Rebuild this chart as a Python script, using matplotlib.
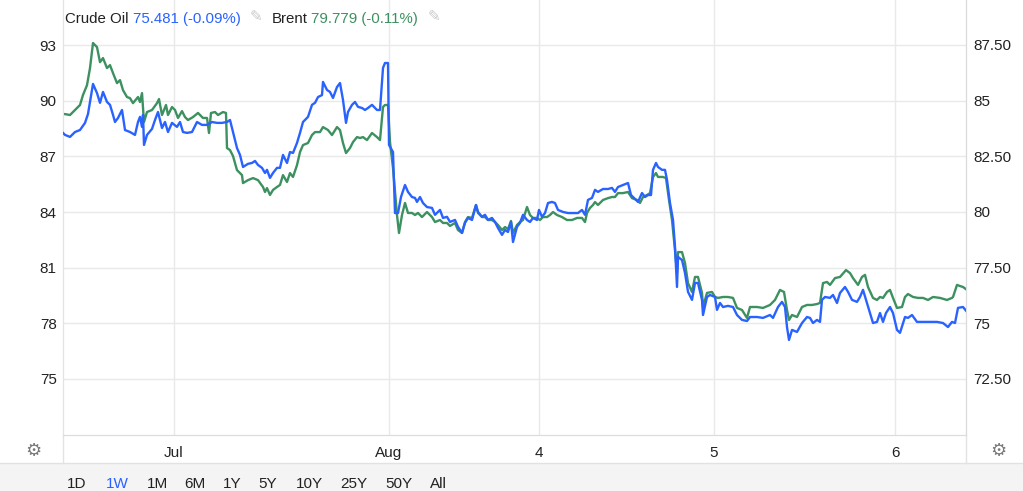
#!/usr/bin/env python3
# crude_brent_plot.py
import matplotlib
matplotlib.use("Agg")
import matplotlib.pyplot as plt
from matplotlib.lines import Line2D
from matplotlib.patches import Rectangle
from matplotlib.ticker import FixedLocator, FuncFormatter

plt.rcParams['font.family'] = ['Liberation Sans', 'DejaVu Sans']

# ----------------------------- Data -----------------------------
# time axis is in bar steps from the left edge of the chart
crude_t = [0, 2, 7, 12, 17, 22, 25, 30, 34, 37, 40, 44, 47, 50, 52, 55, 59, 62, 67, 72,
           75, 77, 79, 80, 81, 84, 89, 92, 95, 99, 102, 105, 109, 114, 117, 120, 124, 129, 134, 139,
           144, 149, 154, 159, 164, 167, 170, 174, 177, 180, 185, 189, 192, 195, 199, 202, 204, 207, 210, 214,
           217, 220, 224, 227, 230, 234, 237, 240, 245, 249, 252, 255, 259, 260, 264, 267, 270, 274, 277, 280,
           283, 285, 289, 292, 295, 299, 302, 305, 309, 314, 317, 320, 322, 325, 326, 330, 332, 335, 338, 342,
           345, 349, 352, 354, 357, 360, 364, 369, 372, 375, 377, 380, 384, 387, 392, 395, 399, 402, 405, 409,
           413, 415, 419, 422, 425, 429, 432, 435, 439, 442, 445, 448, 450, 454, 457, 460, 464, 467, 470, 474,
           476, 479, 482, 485, 489, 492, 495, 500, 505, 510, 515, 519, 522, 525, 529, 532, 535, 540, 545, 549,
           552, 555, 560, 565, 568, 571, 575, 579, 582, 585, 588, 590, 593, 595, 599, 602, 604, 607, 610, 612,
           614, 615, 619, 622, 625, 629, 632, 635, 639, 640, 644, 647, 652, 654, 657, 660, 665, 670, 674, 679,
           684, 687, 694, 700, 707, 710, 715, 719, 722, 724, 726, 729, 734, 739, 744, 747, 750, 754, 757, 759,
           762, 767, 770, 774, 777, 782, 785, 789, 794, 797, 800, 804, 807, 810, 814, 817, 820, 823, 827, 830,
           834, 837, 842, 845, 849, 854, 860, 867, 874, 880, 885, 889, 892, 895, 900, 904]
crude = [83.55, 83.46, 83.37, 83.59, 83.68, 84.00, 84.40, 85.75, 85.34, 84.90, 85.39, 84.94, 84.81, 84.36, 84.04, 84.22, 84.58, 83.68, 83.59, 83.46,
         84.04, 84.27, 83.82, 84.36, 83.01, 83.46, 83.73, 84.13, 84.49, 83.77, 84.04, 83.59, 84.00, 83.82, 84.04, 83.59, 83.55, 83.59, 84.04, 83.91,
         83.91, 84.04, 84.00, 84.00, 84.04, 84.13, 83.59, 82.87, 82.56, 82.02, 82.16, 82.20, 82.29, 82.11, 81.98, 81.75, 81.89, 81.53, 81.75, 81.98,
         81.98, 82.56, 82.20, 82.69, 82.65, 83.10, 83.55, 84.04, 84.27, 84.81, 84.90, 85.16, 85.25, 85.84, 85.48, 85.39, 85.12, 85.61, 85.79, 85.03,
         84.00, 84.49, 84.81, 84.94, 84.72, 84.67, 84.58, 84.67, 84.81, 84.58, 84.58, 86.47, 86.69, 86.69, 83.01, 82.69, 79.95, 79.95, 80.67, 81.21,
         80.90, 80.67, 80.63, 80.45, 80.67, 80.40, 80.22, 80.18, 79.87, 80.00, 80.09, 79.73, 79.78, 79.55, 79.64, 79.33, 79.06, 79.51, 79.73, 79.64,
         80.31, 80.00, 79.78, 79.87, 79.64, 79.73, 79.55, 79.28, 78.97, 79.19, 79.10, 79.55, 78.65, 79.33, 79.51, 79.87, 79.64, 79.55, 79.73, 79.64,
         80.09, 79.78, 79.95, 80.40, 80.45, 80.40, 80.09, 80.00, 79.95, 79.95, 79.95, 80.09, 79.87, 80.54, 80.63, 80.99, 80.90, 81.03, 81.03, 81.08,
         80.90, 81.12, 81.21, 81.30, 80.76, 80.63, 80.45, 80.85, 80.67, 80.76, 80.76, 81.89, 82.20, 82.02, 81.89, 81.89, 81.44, 80.40, 79.64, 78.43,
         76.63, 77.98, 77.84, 77.26, 76.41, 76.05, 76.81, 76.81, 76.05, 75.37, 76.18, 76.27, 76.18, 75.60, 75.91, 75.73, 75.78, 75.73, 75.37, 75.15,
         75.10, 75.28, 75.28, 75.24, 75.37, 75.24, 75.73, 75.96, 75.73, 74.83, 74.25, 74.70, 74.61, 75.01, 75.28, 75.24, 75.01, 75.15, 75.06, 76.05,
         76.18, 76.14, 76.27, 75.91, 76.36, 76.63, 76.41, 76.05, 75.96, 76.18, 76.50, 75.91, 75.46, 75.01, 75.06, 75.46, 75.06, 75.46, 75.73, 75.46,
         74.70, 74.57, 75.28, 75.24, 75.37, 75.06, 75.06, 75.06, 75.06, 75.01, 74.83, 75.06, 75.01, 75.69, 75.73, 75.51]

brent_t = [0, 2, 7, 12, 17, 20, 24, 27, 30, 34, 37, 40, 44, 47, 50, 54, 57, 60, 64, 67,
           70, 75, 77, 79, 81, 84, 89, 94, 96, 99, 103, 105, 109, 112, 115, 119, 122, 125, 130, 135,
           140, 144, 146, 148, 152, 155, 160, 163, 164, 167, 170, 174, 179, 180, 185, 190, 195, 200, 202, 204,
           207, 210, 214, 217, 220, 224, 227, 230, 234, 237, 240, 245, 249, 252, 257, 260, 265, 269, 274, 277,
           280, 283, 287, 290, 294, 297, 300, 304, 309, 314, 317, 320, 322, 325, 327, 330, 334, 336, 339, 342,
           345, 349, 352, 355, 359, 364, 369, 372, 377, 380, 384, 387, 392, 395, 399, 402, 405, 409, 413, 415,
           419, 422, 425, 429, 432, 435, 439, 442, 445, 448, 450, 454, 457, 460, 464, 467, 470, 474, 477, 480,
           484, 487, 490, 494, 499, 504, 509, 514, 519, 522, 524, 527, 530, 532, 535, 540, 545, 549, 552, 555,
           560, 565, 569, 574, 577, 580, 584, 587, 590, 593, 595, 600, 603, 606, 609, 612, 614, 615, 619, 622,
           625, 629, 632, 635, 639, 640, 644, 649, 652, 655, 660, 665, 670, 674, 679, 684, 687, 694, 700, 707,
           712, 717, 721, 724, 726, 729, 734, 739, 744, 749, 754, 757, 760, 764, 767, 772, 777, 783, 787, 790,
           795, 799, 802, 805, 810, 814, 817, 820, 824, 827, 830, 834, 839, 842, 845, 850, 855, 860, 865, 870,
           877, 884, 889, 890, 894, 897, 900, 904]
brent = [89.28, 89.28, 89.23, 89.50, 89.77, 90.31, 90.84, 91.76, 93.11, 92.89, 92.08, 92.30, 91.76, 91.92, 91.49, 90.95, 91.11, 90.57, 90.20, 90.14,
         89.87, 90.20, 89.93, 90.41, 88.85, 89.39, 89.50, 89.87, 90.09, 89.23, 89.77, 89.23, 89.66, 89.50, 89.07, 89.44, 89.12, 88.96, 89.12, 89.34,
         89.07, 89.07, 88.26, 89.34, 89.39, 89.23, 89.39, 89.34, 87.45, 87.34, 87.02, 86.26, 85.99, 85.56, 85.72, 85.83, 85.72, 85.35, 85.08, 85.29,
         84.92, 85.19, 85.35, 85.46, 85.99, 85.62, 86.10, 85.89, 86.53, 87.23, 87.61, 87.72, 88.15, 88.31, 88.31, 88.58, 88.42, 88.15, 88.58, 88.42,
         87.72, 87.18, 87.45, 87.77, 88.04, 87.99, 88.04, 87.88, 88.26, 88.04, 87.88, 89.66, 89.77, 89.77, 87.77, 86.37, 83.84, 82.87, 83.84, 84.49,
         83.95, 83.95, 83.84, 83.95, 83.73, 84.00, 83.73, 83.46, 83.57, 83.41, 83.41, 83.25, 83.41, 83.03, 82.87, 83.46, 83.73, 83.68, 84.38, 83.95,
         83.73, 83.73, 83.57, 83.57, 83.46, 83.30, 83.03, 83.19, 83.08, 83.52, 82.87, 83.30, 83.46, 83.57, 84.27, 83.84, 83.68, 83.68, 83.57, 83.73,
         83.73, 83.84, 84.00, 83.84, 83.73, 83.57, 83.57, 83.68, 83.68, 83.46, 83.95, 84.22, 84.38, 84.54, 84.38, 84.65, 84.75, 84.81, 84.81, 85.02,
         85.02, 85.08, 84.75, 84.65, 84.49, 84.81, 84.92, 85.02, 85.89, 86.10, 85.89, 85.89, 85.83, 84.65, 83.57, 81.95, 80.71, 81.84, 81.84, 81.25,
         80.17, 79.69, 80.50, 80.50, 79.64, 78.88, 79.64, 79.69, 79.42, 79.37, 79.42, 79.42, 79.37, 78.83, 78.72, 78.29, 78.88, 78.88, 78.83, 78.99,
         79.26, 79.80, 79.69, 78.72, 78.18, 78.45, 78.34, 78.88, 78.99, 78.99, 79.04, 79.10, 80.17, 80.23, 80.07, 80.44, 80.50, 80.87, 80.71, 80.44,
         80.07, 80.50, 80.61, 79.96, 79.37, 79.26, 79.42, 79.37, 79.69, 79.80, 79.37, 78.83, 78.88, 79.42, 79.58, 79.42, 79.37, 79.37, 79.26, 79.42,
         79.37, 79.26, 79.37, 79.42, 80.07, 80.01, 79.96, 79.80]

x_ticks = [111, 326, 476, 651, 832]
x_labels = ["Jul", "Aug", "4", "5", "6"]
brent_ticks = [75, 78, 81, 84, 87, 90, 93]
crude_ticks = [72.5, 75, 77.5, 80, 82.5, 85, 87.5]
ranges = ["1D", "1W", "1M", "6M", "1Y", "5Y", "10Y", "25Y", "50Y", "All"]
range_x = [77, 117, 157, 195, 232, 268, 309, 354, 399, 438]

BLUE = "#2962ff"
GREEN = "#3d9160"
GRID = "#e9e9e9"
TXT = "#222222"
FS = 11

# ----------------------------- Figure -----------------------------
W, H = 1023, 491
fig = plt.figure(figsize=(W / 100, H / 100), dpi=100)
L, R, T, B = 63, 966, 0, 435
ax = fig.add_axes([L / W, 1 - B / H, (R - L) / W, (B - T) / H])
ax2 = ax.twinx()

ax.plot(brent_t, brent, color=GREEN, lw=1.7, zorder=3)
ax2.plot(crude_t, crude, color=BLUE, lw=1.7, zorder=3)

ax.set_xlim(0, 903)
ax.set_ylim(71.98, 95.43)
ax2.set_ylim(69.98, 89.52)

ax.xaxis.set_major_locator(FixedLocator(x_ticks))
ax.set_xticklabels(x_labels)
ax.yaxis.set_major_locator(FixedLocator(brent_ticks))
ax2.yaxis.set_major_locator(FixedLocator(crude_ticks))
ax2.yaxis.set_major_formatter(FuncFormatter(
    lambda v, p: f"{v:.0f}" if abs(v - round(v)) < 1e-6 else f"{v:.2f}"))

ax.grid(True, color=GRID, lw=1)
ax.set_axisbelow(True)
ax.tick_params(axis="x", length=0, pad=8, labelsize=FS, labelcolor=TXT)
ax.tick_params(axis="y", length=0, pad=4.5, labelsize=FS, labelcolor=TXT)
ax2.tick_params(axis="y", length=0, pad=5, labelsize=FS, labelcolor=TXT)

for a in (ax, ax2):
    a.spines["top"].set_visible(False)
    a.spines["left"].set_color("#e3e3e3")
    a.spines["right"].set_color("#dadada")
    a.spines["bottom"].set_color("#dcdcdc")

# ----------------------------- Chrome -----------------------------
def fx(px):
    return px / W

def fy(py):
    return 1 - py / H

fig.patches.append(Rectangle((0, 0), 1, fy(463), transform=fig.transFigure,
                             facecolor="#f4f4f4", edgecolor="none", zorder=0))
fig.lines.append(Line2D([0, 1], [fy(463), fy(463)], transform=fig.transFigure, color="#e2e2e2", lw=1))
fig.lines.append(Line2D([fx(L), fx(L)], [fy(436), fy(463)], transform=fig.transFigure, color="#e3e3e3", lw=1))
fig.lines.append(Line2D([fx(R), fx(R)], [fy(436), fy(463)], transform=fig.transFigure, color="#e3e3e3", lw=1))

for gx in (33, 998):
    fig.text(fx(gx), fy(451), "\u2699", family="DejaVu Sans", fontsize=13,
             color="#7a7a7a", ha="center", va="center")

for lbl, rx in zip(ranges, range_x):
    fig.text(fx(rx), fy(477), lbl, fontsize=FS, ha="center", va="top",
             color=BLUE if lbl == "1W" else TXT)

# header legend
hy = fy(19)
fig.text(fx(65), hy, "Crude Oil", fontsize=10.8, color=TXT, va="center")
fig.text(fx(133), hy, "75.481 (-0.09%)", fontsize=10.8, color=BLUE, va="center")
fig.text(fx(256), fy(17), "\u270e", family="DejaVu Sans", fontsize=11, color="#c8c8c8", ha="center", va="center")
fig.text(fx(272), hy, "Brent", fontsize=10.8, color=TXT, va="center")
fig.text(fx(311), hy, "79.779 (-0.11%)", fontsize=10.8, color=GREEN, va="center")
fig.text(fx(434), fy(17), "\u270e", family="DejaVu Sans", fontsize=11, color="#c8c8c8", ha="center", va="center")

fig.savefig("out.png", dpi=100)
